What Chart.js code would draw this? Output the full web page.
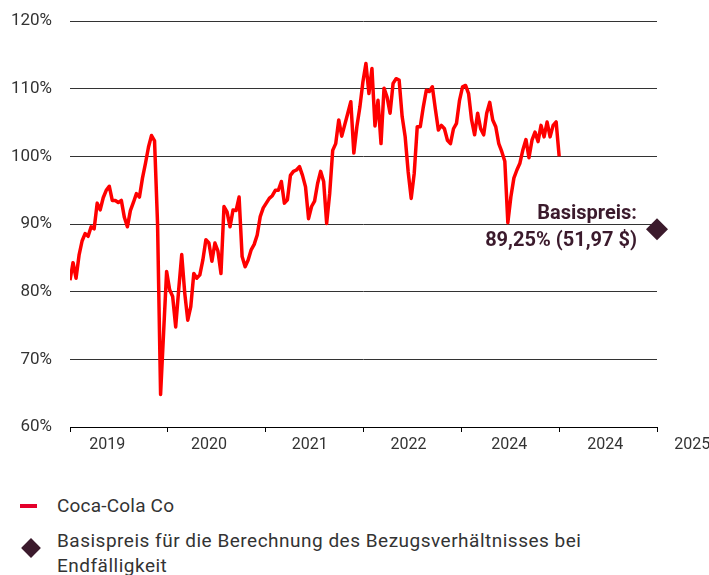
<!DOCTYPE html>
<html>
<head>
<meta charset="utf-8">
<script src="https://cdn.jsdelivr.net/npm/chart.js@4.4.0/dist/chart.umd.min.js"></script>
<style>
  body { margin: 0; background: #fff; font-family: Roboto, sans-serif; color: #333; }
  #wrap { position: relative; width: 709px; height: 575px; overflow: hidden; }
  /* Chart.js reserviert oben etwas mehr Platz, daher Canvas leicht nach oben versetzt */
  #priceChart { position: absolute; left: 0; top: -7px; }
  .legend-text { position: absolute; left: 57px; font-size: 19px; line-height: 25px; white-space: nowrap; }
  .legend-dash { position: absolute; left: 20px; top: 504px; width: 17px; height: 4px; background: #e4002b; }
  .legend-diamond { position: absolute; left: 24px; top: 541px; width: 14px; height: 14px; background: #3b1a2c; transform: rotate(45deg); }
</style>
</head>
<body>
<div id="wrap">
  <canvas id="priceChart" width="709" height="477"></canvas>
  <div class="legend-dash"></div>
  <div class="legend-text" style="top:493px; letter-spacing:0.2px">Coca-Cola Co</div>
  <div class="legend-diamond"></div>
  <div class="legend-text" style="top:528px; letter-spacing:0.5px">Basispreis für die Berechnung des Bezugsverhältnisses bei<br>Endfälligkeit</div>
</div>
<script>
// Kurs in % des Basispreis-Referenzwerts, gleichmäßig über die Zeitachse verteilt
const priceValues = [
  81.7, 84.3, 82, 85.4, 87.5, 88.6, 88.2, 89.6, 89.3, 93.1,
  92.1, 93.9, 95, 95.6, 93.5, 93.5, 93.2, 93.5, 91, 89.6,
  92, 93.2, 94.5, 94, 96.8, 99, 101.4, 103.1, 102.3, 90,
  64.8, 74, 83, 80.3, 79.3, 74.8, 80.3, 85.5, 79.8, 75.8,
  77.8, 82.7, 82, 82.5, 84.7, 87.7, 87.2, 84.5, 87.2, 86,
  82.7, 92.6, 91.8, 89.6, 92.1, 92, 94, 85.2, 83.7, 84.7,
  86.2, 87, 88.4, 91.1, 92.4, 93.1, 93.8, 94.2, 95, 95,
  96.3, 93.1, 93.6, 97.2, 97.8, 98, 98.5, 97.2, 95.5, 90.8,
  92.6, 93.4, 96, 97.8, 96.3, 90.1, 94.5, 100.9, 101.9, 105.4,
  103, 104.7, 106.4, 108.1, 100.5, 104.4, 107.3, 111, 113.75, 109.3,
  113, 104.5, 108.3, 101.9, 110.1, 108.8, 106.4, 110.8, 111.5, 111.3,
  105.9, 102.9, 97.7, 93.8, 97.5, 104.4, 104.4, 107.3, 109.8, 109.6,
  110.3, 107, 103.9, 104.6, 104.1, 102.4, 101.9, 104.1, 104.9, 108.3,
  110.3, 110.5, 109.3, 105.4, 103.2, 106.4, 104.1, 103.2, 106.4, 108,
  105.4, 104.4, 101.9, 100.7, 99.3, 90.2, 94, 96.8, 98, 99,
  101, 102.5, 99.8, 102.4, 103.6, 102.2, 104.6, 102.9, 105.1, 102.9,
  104.6, 105.1, 100
];
const dataSpan = 5;          // Kursreihe reicht von 0 bis 5 auf der x-Achse
const axisMax = 6;           // Endfälligkeit

const yTicks = [60, 70, 80, 90, 100, 110, 120];
const yearLabels = ['2019', '2020', '2021', '2022', '2024', '2024'];
const yearLabelPos = [0.38, 1.42, 2.45, 3.46, 4.49, 5.47];
const lastYearLabel = '2025';
const lastYearPos = 6.36;

const strikeLevel = 89.25;
const strikeLines = ['Basispreis:', '89,25% (51,97 $)'];

const lineColor = '#ff0000';
const strikeColor = '#3b1a2c';
const textColor = '#333';

const pricePoints = priceValues.map((v, i) => ({ x: i * dataSpan / (priceValues.length - 1), y: v }));

// Beschriftung am Basispreis + Jahreslabel rechts außerhalb der Achse
const extraText = {
  id: 'extraText',
  afterDatasetsDraw(chart) {
    const { ctx, scales: { x, y } } = chart;
    const px = x.getPixelForValue(axisMax);
    const py = y.getPixelForValue(strikeLevel);
    ctx.save();
    ctx.fillStyle = strikeColor;
    ctx.font = 'bold 20px Roboto';
    ctx.textAlign = 'right';
    ctx.textBaseline = 'middle';
    ctx.fillText(strikeLines[0], px - 20, py - 15);
    ctx.fillText(strikeLines[1], px - 20, py + 12);

    ctx.fillStyle = textColor;
    ctx.font = '16px Roboto';
    ctx.textAlign = 'center';
    ctx.textBaseline = 'top';
    ctx.fillText(lastYearLabel, x.getPixelForValue(lastYearPos), x.top + 10);
    ctx.restore();
  }
};

new Chart(document.getElementById('priceChart'), {
  type: 'line',
  data: {
    datasets: [
      {
        label: 'Coca-Cola Co',
        data: pricePoints,
        borderColor: lineColor,
        borderWidth: 3.5,
        pointRadius: 0,
        tension: 0,
        borderJoinStyle: 'round',
        order: 2
      },
      {
        label: 'Basispreis',
        data: [{ x: axisMax, y: strikeLevel }],
        showLine: false,
        pointStyle: 'rectRot',
        pointRadius: 11,
        backgroundColor: strikeColor,
        borderWidth: 0,
        clip: false,
        order: 1
      }
    ]
  },
  options: {
    responsive: false,
    animation: false,
    layout: { autoPadding: false, padding: { top: 21, right: 52, left: 0, bottom: 0 } },
    plugins: { legend: { display: false }, tooltip: { enabled: false } },
    scales: {
      x: {
        type: 'linear',
        min: 0,
        max: axisMax,
        afterBuildTicks: axis => {
          const vals = [0, 1, 2, 3, 4, 5, 6].concat(yearLabelPos).sort((a, b) => a - b);
          axis.ticks = vals.map(v => ({ value: v }));
        },
        afterFit: s => { s.height = 43; },
        ticks: {
          autoSkip: false,
          maxRotation: 0,
          padding: 3,
          color: textColor,
          font: { family: 'Roboto', size: 16 },
          callback: v => {
            const idx = yearLabelPos.indexOf(v);
            return idx >= 0 ? yearLabels[idx] : '';
          }
        },
        grid: {
          drawOnChartArea: false,
          tickLength: 5,
          tickColor: c => (c.tick && Number.isInteger(c.tick.value)) ? '#000' : 'rgba(0,0,0,0)'
        },
        border: { display: true, color: '#000', width: 1 }
      },
      y: {
        min: yTicks[0],
        max: yTicks[yTicks.length - 1],
        afterBuildTicks: axis => { axis.ticks = yTicks.map(v => ({ value: v })); },
        afterFit: s => { s.width = 70; },
        ticks: {
          padding: 18,
          color: textColor,
          font: { family: 'Roboto', size: 17 },
          callback: v => v + '%'
        },
        grid: { color: '#333', lineWidth: 1, drawTicks: false },
        border: { display: false }
      }
    }
  },
  plugins: [extraText]
});
</script>
</body>
</html>
